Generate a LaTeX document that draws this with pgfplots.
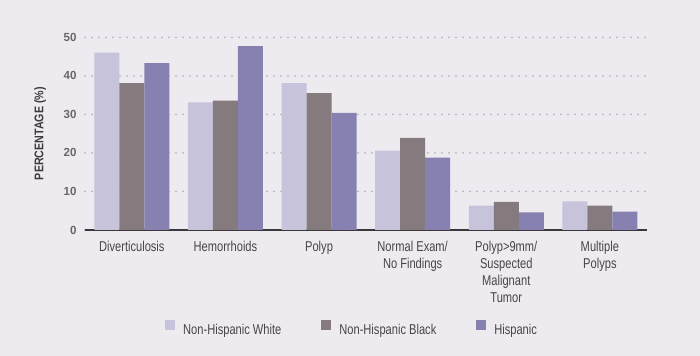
\documentclass[border=0pt]{standalone}
\usepackage{pgfplots}
\pgfplotsset{compat=1.18}
\usepackage{fontspec}
\setmainfont{Liberation Sans}[FakeStretch=0.78]
\newfontfamily\tickfont{Liberation Sans}[FakeStretch=0.98]
\newfontfamily\labfont{Liberation Sans}[FakeStretch=0.85]
\definecolor{bgc}{HTML}{EDEAF0}
\definecolor{cwhite}{HTML}{C7C3DB}
\definecolor{cblack}{HTML}{857A7D}
\definecolor{chisp}{HTML}{8781B2}
\definecolor{axc}{HTML}{3B3639}
\definecolor{tickc}{HTML}{6B6569}
\definecolor{labc}{HTML}{3F3A3D}
\definecolor{textc}{HTML}{4A4448}
\definecolor{gridc}{HTML}{B8B3BD}
\begin{document}
\begin{tikzpicture}
\fill[bgc] (0bp,0bp) rectangle (700bp,356bp);
\useasboundingbox (0bp,0bp) rectangle (700bp,356bp);
\begin{axis}[
  at={(85bp,126bp)}, anchor=south west,
  scale only axis, width=561.7bp, height=192.7bp,
  xmin=-0.5, xmax=5.5, ymin=0, ymax=50,
  axis lines*=left,
  x axis line style={draw=axc, line width=1.4bp},
  y axis line style={draw=none},
  major tick length=0pt,
  xtick={0,1,2,3,4,5},
  xticklabels={Diverticulosis, Hemorrhoids, Polyp, {Normal Exam/\\No Findings}, {Polyp>9mm/\\Suspected\\Malignant\\Tumor}, {Multiple\\Polyps}},
  xticklabel style={align=center, font=\fontsize{14.3}{17}\selectfont, text=textc, yshift=-8bp},
  ytick={0,10,20,30,40,50},
  yticklabel style={font=\tickfont\bfseries\fontsize{11.8}{14}\selectfont, text=tickc, xshift=-5bp},
  /pgf/number format/assume math mode=true,
  ymajorgrids,
  major grid style={draw=gridc, line width=2bp, line cap=round, dash pattern=on 0bp off 7bp},
  ylabel={PERCENTAGE (\%)},
  ylabel style={at={(axis description cs:-0.0801,0.5)}, anchor=center, font=\labfont\bfseries\fontsize{12.6}{14}\selectfont, text=labc},
  ybar, bar width=0.267,
  legend columns=3,
  legend style={at={(axis description cs:0.4755,-0.514)}, anchor=center, draw=none, fill=none,
    font=\fontsize{14.3}{15}\selectfont, text=textc,
    /tikz/every odd column/.append style={column sep=6bp},
    /tikz/every even column/.append style={column sep=38bp}},
  legend image code/.code={\fill[#1] (0bp,-0.5bp) rectangle (10bp,9.5bp);},
]
\addplot[fill=cwhite, draw=none, bar shift=-0.267] coordinates {(0,46.0) (1,33.1) (2,38.1) (3,20.6) (4,6.3) (5,7.4)};
\addplot[fill=cblack, draw=none, bar shift=0] coordinates {(0,38.1) (1,33.6) (2,35.5) (3,23.9) (4,7.3) (5,6.3)};
\addplot[fill=chisp, draw=none, bar shift=0.267] coordinates {(0,43.3) (1,47.7) (2,30.4) (3,18.8) (4,4.6) (5,4.8)};
\legend{Non-Hispanic White, Non-Hispanic Black, Hispanic}
\end{axis}
\end{tikzpicture}
\end{document}
